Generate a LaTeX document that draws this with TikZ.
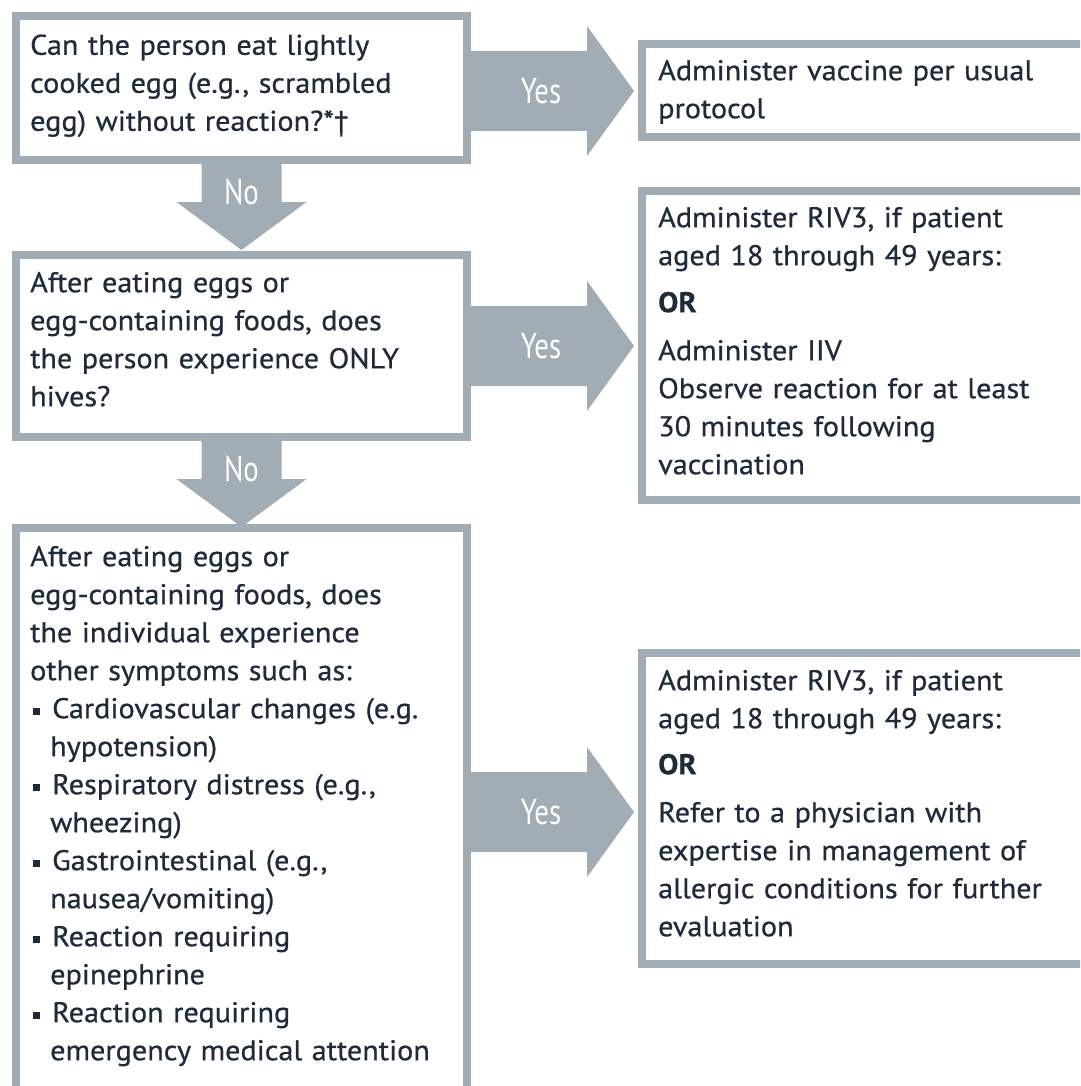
\documentclass[tikz,border=0pt]{standalone}
\usepackage{fontspec}
\setmainfont{PT Sans}[FakeStretch=1.06, FakeBold=0.6]
\newfontfamily\condfont[FakeStretch=0.8]{PT Sans}
\usetikzlibrary{calc}
\definecolor{edge}{HTML}{A2ACB4}
\definecolor{ink}{HTML}{1F2A3A}
\tikzset{
  box/.style={draw=edge, line width=8pt, fill=white, inner sep=0pt, anchor=north west},
  txt/.style={anchor=north west, inner sep=0pt, align=left, text width=440pt, text=ink,
    font=\fontsize{28.5}{38}\selectfont},
  lab/.style={text=white, font=\condfont\fontsize{36}{36}\selectfont, inner sep=0pt},
  pics/rarrow/.style={code={
    \fill[edge] (-4,-40) -- (116,-40) -- (116,-65) -- (163,0) -- (116,65) -- (116,40) -- (-4,40) -- cycle;
    \node[lab] (lab) at (70,0) {#1};}},
  pics/darrow/.style={code={
    \fill[edge] (-40,-4) -- (-40,38) -- (-65,38) -- (0,86) -- (65,38) -- (40,38) -- (40,-4) -- cycle;
    \node[lab] (lab) at (0,28) {#1};}}
}
\newcommand{\sqb}{\hspace*{3pt}\rule[3.5pt]{7pt}{7pt}\hspace{12pt}}
\newcommand{\cont}{\hspace*{20pt}}
\begin{document}
\begin{tikzpicture}[x=1pt,y=-1pt]
\useasboundingbox (0,0) rectangle (1080,1086);
\clip (0,0) rectangle (1080,1086);
% boxes
\node[box, minimum width=451pt, minimum height=144pt] (q1) at (12,12) {};
\node[box, minimum width=451pt, minimum height=182pt] (q2) at (12,251) {};
\node[box, minimum width=451pt, minimum height=620pt] (q3) at (12,524) {};
\node[box, minimum width=500pt, minimum height=93pt] (r1) at (638,40) {};
\node[box, minimum width=500pt, minimum height=309pt] (r2) at (638,187) {};
\node[box, minimum width=500pt, minimum height=311pt] (r3) at (638,649) {};
% texts
\node[txt] (q1t) at (30,28) {\strut Can the person eat lightly\\cooked egg (e.g., scrambled\\egg) without reaction?*†};
\node[txt] (q2t) at (30,265.4) {\strut After eating eggs or\\egg-containing foods, does\\the person experience ONLY\\hives?};
\node[txt] (q3t) at (30,539.4) {\strut After eating eggs or\\egg-containing foods, does\\the individual experience\\other symptoms such as:\\
\sqb Cardiovascular changes (e.g.\\\cont hypotension)\\
\sqb Respiratory distress (e.g.,\\\cont wheezing)\\
\sqb Gastrointestinal (e.g.,\\\cont nausea/vomiting)\\
\sqb Reaction requiring\\\cont epinephrine\\
\sqb Reaction requiring\\\cont emergency medical attention};
\node[txt] (r1t) at (658,53.4) {\strut Administer vaccine per usual\\protocol};
\node[txt] (r2t) at (658,200.4) {\strut Administer RIV3, if patient\\aged 18 through 49 years:\\[9pt]\textbf{OR}\\[10pt]Administer IIV\\Observe reaction for at least\\30 minutes following\\vaccination};
\node[txt] (r3t) at (658,663.4) {\strut Administer RIV3, if patient\\aged 18 through 49 years:\\[8pt]\textbf{OR}\\[10pt]Refer to a physician with\\expertise in management of\\allergic conditions for further\\evaluation};
% arrows
\pic (y1) at ($(q1.east)+(0,3)$) {rarrow=Yes};
\pic (y2) at (q2.east) {rarrow=Yes};
\pic (y3) at ($(q3.north east)+(0,288)$) {rarrow=Yes};
\pic (n1) at (q1.south) {darrow=No};
\pic (n2) at (q2.south) {darrow=No};
\end{tikzpicture}
\end{document}
